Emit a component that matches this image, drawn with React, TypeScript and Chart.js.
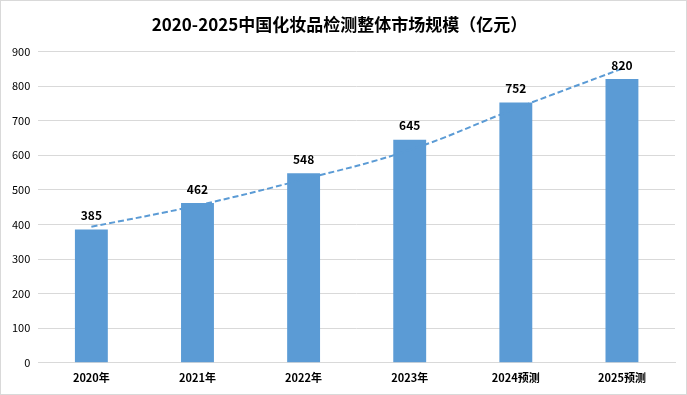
import React, { useEffect, useRef } from "react";
import { Chart, registerables } from "chart.js";

Chart.register(...registerables);

const categories = ["2020年", "2021年", "2022年", "2023年", "2024预测", "2025预测"];
const marketSize = [385, 462, 548, 645, 752, 820];
const trendValues = [393, 455, 530, 615, 735, 850];
const yTicks = [0, 100, 200, 300, 400, 500, 600, 700, 800, 900];
const titleText = "2020-2025中国化妆品检测整体市场规模（亿元）";

const FONT = "'Noto Sans CJK SC', 'Noto Sans', sans-serif";

const borderPlugin = {
  id: "outerBorder",
  beforeDraw(chart: any) {
    const { ctx, width, height } = chart;
    ctx.save();
    ctx.fillStyle = "#ffffff";
    ctx.fillRect(0, 0, width, height);
    ctx.strokeStyle = "#d9d9d9";
    ctx.lineWidth = 1;
    ctx.strokeRect(0.5, 0.5, width - 1, height - 1);
    ctx.restore();
  },
};

const labelPlugin = {
  id: "barLabels",
  afterDatasetsDraw(chart: any) {
    const { ctx } = chart;
    const meta = chart.getDatasetMeta(0);
    ctx.save();
    ctx.font = `bold 12px ${FONT}`;
    ctx.fillStyle = "#000000";
    ctx.textAlign = "center";
    ctx.textBaseline = "bottom";
    meta.data.forEach((el: any, i: number) => {
      ctx.fillText(String(marketSize[i]), el.x, el.y - 8);
    });
    ctx.restore();
  },
};

export default function App() {
  const ref = useRef<HTMLCanvasElement>(null);
  useEffect(() => {
    document.body.style.margin = "0";
    const chart = new Chart(ref.current!, {
      type: "bar",
      data: {
        labels: categories,
        datasets: [
          {
            type: "bar",
            data: marketSize,
            backgroundColor: "#5B9BD5",
            barPercentage: 0.62,
            categoryPercentage: 0.5,
            order: 2,
          } as any,
          {
            type: "line",
            data: trendValues,
            borderColor: "#5B9BD5",
            borderWidth: 2,
            borderDash: [6, 3],
            pointRadius: 0,
            fill: false,
            tension: 0.4,
            order: 1,
          } as any,
        ],
      },
      options: {
        responsive: false,
        animation: false,
        layout: { padding: { left: 4, right: 12, top: 10, bottom: 3 } },
        plugins: {
          legend: { display: false },
          tooltip: { enabled: false },
          title: {
            display: true,
            text: titleText,
            color: "#000000",
            font: { family: FONT, size: 17, weight: "bold" },
            padding: { top: 4, bottom: 17 },
          },
        },
        scales: {
          x: {
            grid: { display: false, drawTicks: false },
            border: { display: true, color: "#d9d9d9" },
            ticks: {
              color: "#000000",
              font: { family: FONT, size: 11, weight: "bold" },
              padding: 8,
            },
          },
          y: {
            min: 0,
            max: 900,
            afterBuildTicks(scale: any) {
              scale.ticks = yTicks.map((v) => ({ value: v }));
            },
            grid: { color: "#d9d9d9", drawTicks: false },
            border: { display: false },
            ticks: {
              color: "#000000",
              font: { family: FONT, size: 11 },
              padding: 8,
            },
          },
        },
      },
      plugins: [borderPlugin, labelPlugin],
    });
    return () => chart.destroy();
  }, []);
  return (
    <div style={{ width: 687, height: 395 }}>
      <canvas ref={ref} width={687} height={395} style={{ display: "block" }} />
    </div>
  );
}
